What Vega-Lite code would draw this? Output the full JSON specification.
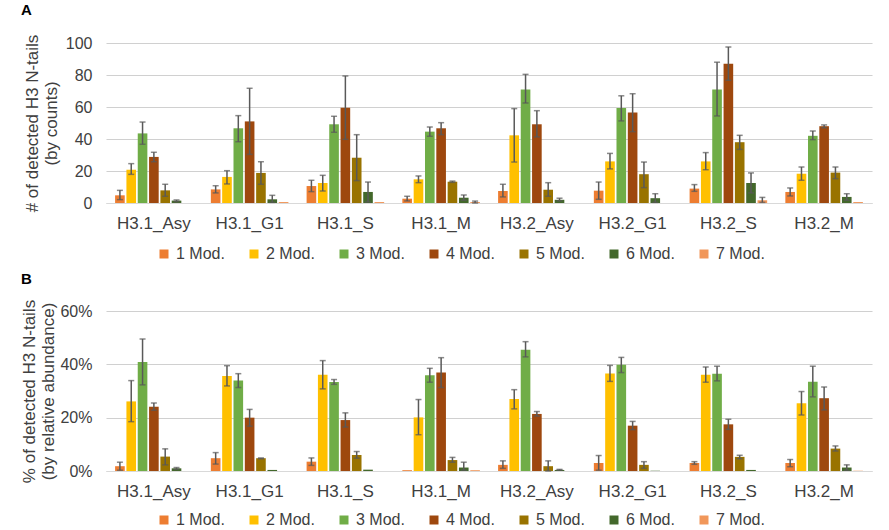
{
  "$schema": "https://vega.github.io/schema/vega-lite/v6.json",
  "padding": {"left": 20, "top": 3, "right": 14, "bottom": 2},
  "background": "white",
  "spacing": 10,
  "datasets": {
    "a": [
      {"g":"H3.1_Asy","m":"1 Mod.","v":4.8,"lo":2.1,"hi":7.9},
      {"g":"H3.1_Asy","m":"2 Mod.","v":20.8,"lo":17.9,"hi":24.6},
      {"g":"H3.1_Asy","m":"3 Mod.","v":43.5,"lo":36.7,"hi":50.6},
      {"g":"H3.1_Asy","m":"4 Mod.","v":28.8,"lo":25.8,"hi":31.7},
      {"g":"H3.1_Asy","m":"5 Mod.","v":7.9,"lo":4.2,"hi":11.7},
      {"g":"H3.1_Asy","m":"6 Mod.","v":1.5,"lo":0.8,"hi":1.9},
      {"g":"H3.1_Asy","m":"7 Mod.","v":0,"lo":null,"hi":null},
      {"g":"H3.1_G1","m":"1 Mod.","v":8.5,"lo":6.3,"hi":10.8},
      {"g":"H3.1_G1","m":"2 Mod.","v":16.3,"lo":11.9,"hi":20.2},
      {"g":"H3.1_G1","m":"3 Mod.","v":46.7,"lo":38.3,"hi":54.6},
      {"g":"H3.1_G1","m":"4 Mod.","v":51,"lo":30.4,"hi":71.7},
      {"g":"H3.1_G1","m":"5 Mod.","v":18.8,"lo":11.7,"hi":25.8},
      {"g":"H3.1_G1","m":"6 Mod.","v":2.3,"lo":0.4,"hi":4.8},
      {"g":"H3.1_G1","m":"7 Mod.","v":0.6,"lo":null,"hi":null},
      {"g":"H3.1_S","m":"1 Mod.","v":10.6,"lo":7.1,"hi":14.2},
      {"g":"H3.1_S","m":"2 Mod.","v":12.5,"lo":7.5,"hi":17.3},
      {"g":"H3.1_S","m":"3 Mod.","v":49.2,"lo":44.2,"hi":54.2},
      {"g":"H3.1_S","m":"4 Mod.","v":59.6,"lo":39.8,"hi":79.4},
      {"g":"H3.1_S","m":"5 Mod.","v":28.3,"lo":14,"hi":42.7},
      {"g":"H3.1_S","m":"6 Mod.","v":6.9,"lo":0.6,"hi":13.1},
      {"g":"H3.1_S","m":"7 Mod.","v":0.6,"lo":null,"hi":null},
      {"g":"H3.1_M","m":"1 Mod.","v":2.7,"lo":1.3,"hi":4.2},
      {"g":"H3.1_M","m":"2 Mod.","v":14.8,"lo":12.7,"hi":16.9},
      {"g":"H3.1_M","m":"3 Mod.","v":44.6,"lo":41.7,"hi":47.5},
      {"g":"H3.1_M","m":"4 Mod.","v":46.7,"lo":42.7,"hi":50.2},
      {"g":"H3.1_M","m":"5 Mod.","v":13.3,"lo":12.9,"hi":13.7},
      {"g":"H3.1_M","m":"6 Mod.","v":3.3,"lo":1.7,"hi":5},
      {"g":"H3.1_M","m":"7 Mod.","v":0.6,"lo":0,"hi":1.2},
      {"g":"H3.2_Asy","m":"1 Mod.","v":7.5,"lo":3.8,"hi":11.7},
      {"g":"H3.2_Asy","m":"2 Mod.","v":42.3,"lo":25.6,"hi":59},
      {"g":"H3.2_Asy","m":"3 Mod.","v":71,"lo":62.5,"hi":80.4},
      {"g":"H3.2_Asy","m":"4 Mod.","v":49.2,"lo":41.3,"hi":57.7},
      {"g":"H3.2_Asy","m":"5 Mod.","v":8.3,"lo":4.2,"hi":12.7},
      {"g":"H3.2_Asy","m":"6 Mod.","v":2,"lo":1.3,"hi":3},
      {"g":"H3.2_Asy","m":"7 Mod.","v":0,"lo":null,"hi":null},
      {"g":"H3.2_G1","m":"1 Mod.","v":7.7,"lo":2.3,"hi":13.1},
      {"g":"H3.2_G1","m":"2 Mod.","v":26,"lo":21.3,"hi":31},
      {"g":"H3.2_G1","m":"3 Mod.","v":59.4,"lo":51.3,"hi":67},
      {"g":"H3.2_G1","m":"4 Mod.","v":56.5,"lo":44.6,"hi":68.3},
      {"g":"H3.2_G1","m":"5 Mod.","v":18,"lo":9.6,"hi":25.6},
      {"g":"H3.2_G1","m":"6 Mod.","v":3,"lo":0.4,"hi":5.8},
      {"g":"H3.2_G1","m":"7 Mod.","v":0,"lo":null,"hi":null},
      {"g":"H3.2_S","m":"1 Mod.","v":9,"lo":7.3,"hi":11.5},
      {"g":"H3.2_S","m":"2 Mod.","v":26,"lo":20.8,"hi":31.5},
      {"g":"H3.2_S","m":"3 Mod.","v":71,"lo":54.4,"hi":88},
      {"g":"H3.2_S","m":"4 Mod.","v":87,"lo":76.7,"hi":97.5},
      {"g":"H3.2_S","m":"5 Mod.","v":38,"lo":33.5,"hi":42.3},
      {"g":"H3.2_S","m":"6 Mod.","v":12.5,"lo":6.3,"hi":18.8},
      {"g":"H3.2_S","m":"7 Mod.","v":1.7,"lo":0.4,"hi":3.5},
      {"g":"H3.2_M","m":"1 Mod.","v":6.9,"lo":4.4,"hi":9.4},
      {"g":"H3.2_M","m":"2 Mod.","v":18.3,"lo":14.2,"hi":22.5},
      {"g":"H3.2_M","m":"3 Mod.","v":42,"lo":39.6,"hi":45},
      {"g":"H3.2_M","m":"4 Mod.","v":48,"lo":47,"hi":48.8},
      {"g":"H3.2_M","m":"5 Mod.","v":19,"lo":15.2,"hi":22.5},
      {"g":"H3.2_M","m":"6 Mod.","v":3.8,"lo":1.7,"hi":5.8},
      {"g":"H3.2_M","m":"7 Mod.","v":0.6,"lo":null,"hi":null}
    ],
    "b": [
      {"g":"H3.1_Asy","m":"1 Mod.","v":1.8,"lo":0.3,"hi":3.3},
      {"g":"H3.1_Asy","m":"2 Mod.","v":26.1,"lo":18.5,"hi":33.9},
      {"g":"H3.1_Asy","m":"3 Mod.","v":40.9,"lo":32.3,"hi":49.5},
      {"g":"H3.1_Asy","m":"4 Mod.","v":24.1,"lo":22.8,"hi":25.5},
      {"g":"H3.1_Asy","m":"5 Mod.","v":5.4,"lo":2.3,"hi":8.3},
      {"g":"H3.1_Asy","m":"6 Mod.","v":1,"lo":0.6,"hi":1.3},
      {"g":"H3.1_Asy","m":"7 Mod.","v":0,"lo":null,"hi":null},
      {"g":"H3.1_G1","m":"1 Mod.","v":4.8,"lo":2.6,"hi":6.9},
      {"g":"H3.1_G1","m":"2 Mod.","v":35.6,"lo":31.9,"hi":39.5},
      {"g":"H3.1_G1","m":"3 Mod.","v":33.9,"lo":31.3,"hi":36.5},
      {"g":"H3.1_G1","m":"4 Mod.","v":20,"lo":16.8,"hi":23.1},
      {"g":"H3.1_G1","m":"5 Mod.","v":4.8,"lo":4.6,"hi":4.9},
      {"g":"H3.1_G1","m":"6 Mod.","v":0.4,"lo":null,"hi":null},
      {"g":"H3.1_G1","m":"7 Mod.","v":0,"lo":null,"hi":null},
      {"g":"H3.1_S","m":"1 Mod.","v":3.5,"lo":2.1,"hi":4.9},
      {"g":"H3.1_S","m":"2 Mod.","v":36.1,"lo":30.8,"hi":41.4},
      {"g":"H3.1_S","m":"3 Mod.","v":33.4,"lo":32.5,"hi":34.3},
      {"g":"H3.1_S","m":"4 Mod.","v":19.1,"lo":16.5,"hi":21.8},
      {"g":"H3.1_S","m":"5 Mod.","v":6,"lo":4.8,"hi":7.3},
      {"g":"H3.1_S","m":"6 Mod.","v":0.5,"lo":null,"hi":null},
      {"g":"H3.1_S","m":"7 Mod.","v":0,"lo":null,"hi":null},
      {"g":"H3.1_M","m":"1 Mod.","v":0.3,"lo":null,"hi":null},
      {"g":"H3.1_M","m":"2 Mod.","v":20.1,"lo":13.6,"hi":26.8},
      {"g":"H3.1_M","m":"3 Mod.","v":35.9,"lo":33.3,"hi":38.5},
      {"g":"H3.1_M","m":"4 Mod.","v":36.9,"lo":31.3,"hi":42.5},
      {"g":"H3.1_M","m":"5 Mod.","v":4.1,"lo":3.3,"hi":5.1},
      {"g":"H3.1_M","m":"6 Mod.","v":1.3,"lo":0.3,"hi":3.3},
      {"g":"H3.1_M","m":"7 Mod.","v":0.3,"lo":null,"hi":null},
      {"g":"H3.2_Asy","m":"1 Mod.","v":2.3,"lo":1,"hi":3.8},
      {"g":"H3.2_Asy","m":"2 Mod.","v":27,"lo":23.3,"hi":30.5},
      {"g":"H3.2_Asy","m":"3 Mod.","v":45.5,"lo":42.8,"hi":48.5},
      {"g":"H3.2_Asy","m":"4 Mod.","v":21.4,"lo":20.6,"hi":22.3},
      {"g":"H3.2_Asy","m":"5 Mod.","v":1.8,"lo":0,"hi":3.8},
      {"g":"H3.2_Asy","m":"6 Mod.","v":0.4,"lo":0.3,"hi":0.6},
      {"g":"H3.2_Asy","m":"7 Mod.","v":0,"lo":null,"hi":null},
      {"g":"H3.2_G1","m":"1 Mod.","v":3,"lo":0.3,"hi":5.8},
      {"g":"H3.2_G1","m":"2 Mod.","v":36.6,"lo":33.6,"hi":39.6},
      {"g":"H3.2_G1","m":"3 Mod.","v":39.8,"lo":36.9,"hi":42.6},
      {"g":"H3.2_G1","m":"4 Mod.","v":17,"lo":15.5,"hi":18.6},
      {"g":"H3.2_G1","m":"5 Mod.","v":2.3,"lo":1,"hi":3.5},
      {"g":"H3.2_G1","m":"6 Mod.","v":0.1,"lo":null,"hi":null},
      {"g":"H3.2_G1","m":"7 Mod.","v":0,"lo":null,"hi":null},
      {"g":"H3.2_S","m":"1 Mod.","v":3,"lo":2.5,"hi":3.5},
      {"g":"H3.2_S","m":"2 Mod.","v":36.1,"lo":33.3,"hi":39},
      {"g":"H3.2_S","m":"3 Mod.","v":36.5,"lo":33.8,"hi":39.3},
      {"g":"H3.2_S","m":"4 Mod.","v":17.5,"lo":15.6,"hi":19.4},
      {"g":"H3.2_S","m":"5 Mod.","v":5.3,"lo":4.6,"hi":5.9},
      {"g":"H3.2_S","m":"6 Mod.","v":0.4,"lo":null,"hi":null},
      {"g":"H3.2_S","m":"7 Mod.","v":0,"lo":null,"hi":null},
      {"g":"H3.2_M","m":"1 Mod.","v":3,"lo":1.6,"hi":4.3},
      {"g":"H3.2_M","m":"2 Mod.","v":25.4,"lo":21,"hi":29.8},
      {"g":"H3.2_M","m":"3 Mod.","v":33.5,"lo":27.8,"hi":39.3},
      {"g":"H3.2_M","m":"4 Mod.","v":27.3,"lo":22.9,"hi":31.5},
      {"g":"H3.2_M","m":"5 Mod.","v":8.4,"lo":7.5,"hi":9.4},
      {"g":"H3.2_M","m":"6 Mod.","v":1.3,"lo":0.3,"hi":2.3},
      {"g":"H3.2_M","m":"7 Mod.","v":0.1,"lo":null,"hi":null}
    ]
  },
  "resolve": {"scale": {"color": "independent"}},
  "vconcat": [
    {
      "width": 766,
      "height": 160,
      "title": {"text": "A", "anchor": "start", "frame": "group", "dx": -85, "offset": 16, "fontSize": 15, "fontWeight": "bold", "color": "#000000"},
      "data": {"name": "a"},
      "encoding": {
        "x": {"field": "g", "type": "nominal", "sort": null, "title": null,
          "scale": {"paddingInner": 0.19, "paddingOuter": 0.095},
          "axis": {"labelAngle": 0, "ticks": false, "labelPadding": 12, "labelFontSize": 17, "domainColor": "#d9d9d9", "labelColor": "#404040", "grid": false}},
        "xOffset": {"field": "m", "type": "nominal", "sort": null, "scale": {"paddingInner": 0.15}}
      },
      "layer": [
        {
          "mark": {"type": "bar"},
          "encoding": {
            "y": {"field": "v", "type": "quantitative", "title": ["# of detected H3 N-tails", "(by counts)"],
              "scale": {"domain": [0, 100]},
              "axis": {"values": [0, 20, 40, 60, 80, 100], "titlePadding": 5}},
            "color": {"field": "m", "type": "nominal",
              "scale": {"domain": ["1 Mod.", "2 Mod.", "3 Mod.", "4 Mod.", "5 Mod.", "6 Mod.", "7 Mod."],
                "range": ["#ED7D31", "#FFC000", "#70AD47", "#9E480E", "#997300", "#43682B", "#F1975A"]},
              "legend": {"title": null, "orient": "none", "legendX": 50, "legendY": 203, "direction": "horizontal", "columns": 7, "columnPadding": 21, "symbolType": "square", "symbolSize": 81, "symbolStrokeWidth": 0, "labelFontSize": 16, "labelOffset": 4, "labelColor": "#404040"}}
          }
        },
        {
          "mark": {"type": "rule", "color": "#595959", "strokeWidth": 1.5},
          "encoding": {"y": {"field": "lo", "type": "quantitative", "title": ["# of detected H3 N-tails", "(by counts)"],
              "scale": {"domain": [0, 100]},
              "axis": {"values": [0, 20, 40, 60, 80, 100], "titlePadding": 5}},
            "y2": {"field": "hi"}}
        },
        {
          "mark": {"type": "tick", "color": "#595959", "size": 6, "thickness": 1.5},
          "encoding": {"y": {"field": "lo", "type": "quantitative", "title": ["# of detected H3 N-tails", "(by counts)"],
              "scale": {"domain": [0, 100]},
              "axis": {"values": [0, 20, 40, 60, 80, 100], "titlePadding": 5}}}
        },
        {
          "mark": {"type": "tick", "color": "#595959", "size": 6, "thickness": 1.5},
          "encoding": {"y": {"field": "hi", "type": "quantitative", "title": ["# of detected H3 N-tails", "(by counts)"],
              "scale": {"domain": [0, 100]},
              "axis": {"values": [0, 20, 40, 60, 80, 100], "titlePadding": 5}}}
        }
      ]
    },
    {
      "width": 766,
      "height": 160,
      "title": {"text": "B", "anchor": "start", "frame": "group", "dx": -85, "offset": 12, "fontSize": 15, "fontWeight": "bold", "color": "#000000"},
      "data": {"name": "b"},
      "encoding": {
        "x": {"field": "g", "type": "nominal", "sort": null, "title": null,
          "scale": {"paddingInner": 0.19, "paddingOuter": 0.095},
          "axis": {"labelAngle": 0, "ticks": false, "labelPadding": 12, "labelFontSize": 17, "domainColor": "#d9d9d9", "labelColor": "#404040", "grid": false}},
        "xOffset": {"field": "m", "type": "nominal", "sort": null, "scale": {"paddingInner": 0.15}}
      },
      "layer": [
        {
          "mark": {"type": "bar"},
          "encoding": {
            "y": {"field": "v", "type": "quantitative", "title": ["% of detected H3 N-tails", "(by relative abundance)"],
              "scale": {"domain": [0, 60]},
              "axis": {"values": [0, 20, 40, 60], "labelExpr": "datum.value + '%'", "titlePadding": 2}},
            "color": {"field": "m", "type": "nominal",
              "scale": {"domain": ["1 Mod.", "2 Mod.", "3 Mod.", "4 Mod.", "5 Mod.", "6 Mod.", "7 Mod."],
                "range": ["#ED7D31", "#FFC000", "#70AD47", "#9E480E", "#997300", "#43682B", "#F1975A"]},
              "legend": {"title": null, "orient": "none", "legendX": 50, "legendY": 201, "direction": "horizontal", "columns": 7, "columnPadding": 21, "symbolType": "square", "symbolSize": 81, "symbolStrokeWidth": 0, "labelFontSize": 16, "labelOffset": 4, "labelColor": "#404040"}}
          }
        },
        {
          "mark": {"type": "rule", "color": "#595959", "strokeWidth": 1.5},
          "encoding": {"y": {"field": "lo", "type": "quantitative", "title": ["% of detected H3 N-tails", "(by relative abundance)"],
              "scale": {"domain": [0, 60]},
              "axis": {"values": [0, 20, 40, 60], "labelExpr": "datum.value + '%'", "titlePadding": 2}},
            "y2": {"field": "hi"}}
        },
        {
          "mark": {"type": "tick", "color": "#595959", "size": 6, "thickness": 1.5},
          "encoding": {"y": {"field": "lo", "type": "quantitative", "title": ["% of detected H3 N-tails", "(by relative abundance)"],
              "scale": {"domain": [0, 60]},
              "axis": {"values": [0, 20, 40, 60], "labelExpr": "datum.value + '%'", "titlePadding": 2}}}
        },
        {
          "mark": {"type": "tick", "color": "#595959", "size": 6, "thickness": 1.5},
          "encoding": {"y": {"field": "hi", "type": "quantitative", "title": ["% of detected H3 N-tails", "(by relative abundance)"],
              "scale": {"domain": [0, 60]},
              "axis": {"values": [0, 20, 40, 60], "labelExpr": "datum.value + '%'", "titlePadding": 2}}}
        }
      ]
    }
  ],
  "config": {
    "font": "Liberation Sans",
    "view": {"stroke": null},
    "title": {"font": "Liberation Sans"},
    "axis": {"labelFont": "Liberation Sans", "titleFont": "Liberation Sans"},
    "axisY": {"grid": true, "gridColor": "#d0d0d0", "gridWidth": 1.2, "gridOpacity": 1, "labelOverlap": false, "domain": false, "ticks": false, "labelPadding": 14, "labelFontSize": 16, "titleFontSize": 17, "titleFontWeight": "normal", "titleLineHeight": 19, "titlePadding": 10, "labelColor": "#404040", "titleColor": "#404040"},
    "legend": {"labelFont": "Liberation Sans"}
  }
}
